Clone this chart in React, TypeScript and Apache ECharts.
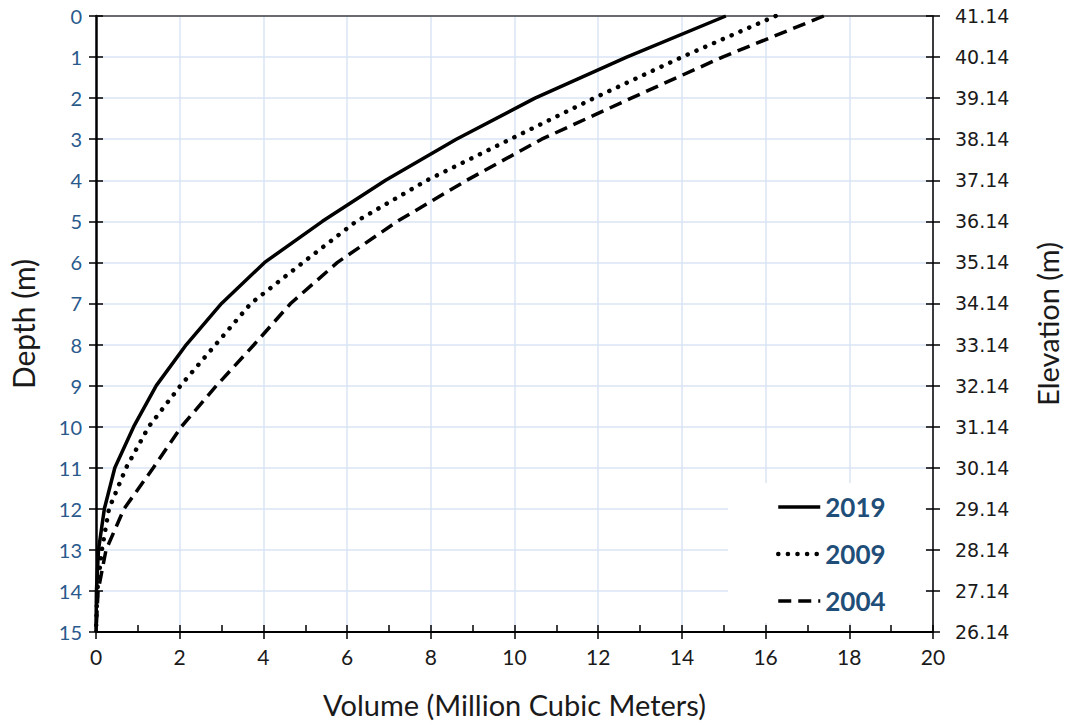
import React, { useEffect, useRef } from "react";
import * as echarts from "echarts";

const depths = [0, 1, 2, 3, 4, 5, 6, 7, 8, 9, 10, 11, 12, 13, 14, 15];
const vol2019 = [15.05, 12.68, 10.49, 8.61, 6.92, 5.41, 4.03, 3.0, 2.16, 1.44, 0.9, 0.45, 0.2, 0.06, 0.01, 0];
const vol2009 = [16.24, 14.0, 11.9, 9.9, 7.91, 6.22, 4.95, 3.7, 2.86, 2.02, 1.26, 0.72, 0.31, 0.14, 0.03, 0];
const vol2004 = [17.39, 14.97, 12.79, 10.65, 8.86, 7.2, 5.77, 4.65, 3.78, 2.88, 2.04, 1.37, 0.67, 0.24, 0.05, 0];
const topElevation = 41.14;
const seriesNames = ["2019", "2009", "2004"];

const pairs = (v: number[]) => v.map((x, i) => [x, depths[i]]);

export default function App() {
  const ref = useRef<HTMLDivElement>(null);
  useEffect(() => {
    if (!ref.current) return;
    const chart = echarts.init(ref.current, null, { renderer: "svg" });
    const gridColor = "#d9e4f3";
    const labelBlue = "#2a5a8c";
    const tickStyle = { color: "#000", width: 1.5 };
    const baseX = { type: "value", min: 0, max: 20, interval: 2 };
    const baseY = { type: "value", min: 0, max: 15, interval: 1, inverse: true };
    const solidStyle = { color: "#000", width: 3.5, type: "solid" };
    const dotStyle = { color: "#000", width: 4.5, type: [0.1, 9.5], cap: "round" };
    const dashStyle = { color: "#000", width: 3.5, type: [13, 7] };
    const styles = [solidStyle, dotStyle, dashStyle];
    chart.setOption({
      animation: false,
      backgroundColor: "#ffffff",
      grid: { left: 95, right: 135, top: 16, bottom: 92 },
      legend: {
        data: seriesNames.map((n, i) => ({ name: n, lineStyle: styles[i] })),
        orient: "vertical",
        left: 728,
        top: 483,
        padding: [11, 40, 9, 48],
        itemWidth: 42,
        itemHeight: 14,
        itemGap: 21,
        backgroundColor: "#ffffff",
        itemStyle: { opacity: 0 },
        textStyle: { fontSize: 26, fontWeight: "bold", color: "#1f4e79", fontFamily: "Lato" },
      },
      xAxis: [
        {
          ...baseX,
          position: "bottom",
          name: "Volume (Million Cubic Meters)",
          nameLocation: "middle",
          nameGap: 58,
          nameTextStyle: { fontSize: 29, color: "#1a1a1a", fontFamily: "Lato" },
          axisLine: { show: true, onZero: false, lineStyle: { color: "#000", width: 2 } },
          axisTick: { show: true, inside: false, length: 7, lineStyle: tickStyle },
          axisLabel: { fontSize: 21, color: "#1a1a1a", margin: 14, fontFamily: "Lato" },
          splitLine: { show: true, lineStyle: { color: gridColor, width: 1.5 } },
        },
        {
          ...baseX,
          position: "bottom",
          axisLine: { show: false, onZero: false },
          axisTick: { show: true, inside: true, length: 7, lineStyle: tickStyle },
          minorTick: { show: true, splitNumber: 2, length: 7, lineStyle: tickStyle },
          axisLabel: { show: false },
          splitLine: { show: false },
        },
        {
          ...baseX,
          position: "top",
          axisLine: { show: true, onZero: false, lineStyle: { color: "#404040", width: 1.5 } },
          axisTick: { show: false },
          axisLabel: { show: false },
          splitLine: { show: false },
        },
      ],
      yAxis: [
        {
          ...baseY,
          position: "left",
          name: "Depth (m)",
          nameLocation: "middle",
          nameGap: 58,
          nameRotate: 90,
          nameTextStyle: { fontSize: 30, color: "#1a1a1a", fontFamily: "Lato" },
          axisLine: { show: true, onZero: false, lineStyle: { color: "#000", width: 2.5 } },
          axisTick: { show: true, inside: false, length: 7, lineStyle: tickStyle },
          axisLabel: { fontSize: 20, color: labelBlue, margin: 14, fontFamily: "Lato" },
          splitLine: { show: true, lineStyle: { color: gridColor, width: 1.5 } },
        },
        {
          ...baseY,
          position: "left",
          axisLine: { show: false, onZero: false },
          axisTick: { show: true, inside: true, length: 7, lineStyle: tickStyle },
          axisLabel: { show: false },
          splitLine: { show: false },
        },
        {
          ...baseY,
          position: "right",
          name: "Elevation (m)",
          nameLocation: "middle",
          nameGap: 100,
          nameRotate: 90,
          nameTextStyle: { fontSize: 29, color: "#1a1a1a", fontFamily: "Lato" },
          axisLine: { show: true, onZero: false, lineStyle: { color: "#000", width: 1.5 } },
          axisTick: { show: true, inside: false, length: 7, lineStyle: tickStyle },
          axisLabel: {
            fontSize: 19,
            color: "#1a1a1a",
            margin: 22,
            fontFamily: "DejaVu Sans",
            formatter: (v: number) => (topElevation - v).toFixed(2),
          },
          splitLine: { show: false },
        },
        {
          ...baseY,
          position: "right",
          axisLine: { show: false, onZero: false },
          axisTick: { show: true, inside: true, length: 7, lineStyle: tickStyle },
          axisLabel: { show: false },
          splitLine: { show: false },
        },
      ],
      series: [
        {
          name: "2019",
          type: "line",
          xAxisIndex: 0,
          yAxisIndex: 0,
          data: pairs(vol2019),
          symbol: "none",
          lineStyle: solidStyle,
          itemStyle: { color: "#000" },
        },
        {
          name: "2009",
          type: "line",
          xAxisIndex: 0,
          yAxisIndex: 0,
          data: pairs(vol2009),
          symbol: "none",
          lineStyle: dotStyle,
          itemStyle: { color: "#000" },
        },
        {
          name: "2004",
          type: "line",
          xAxisIndex: 0,
          yAxisIndex: 0,
          data: pairs(vol2004),
          symbol: "none",
          lineStyle: dashStyle,
          itemStyle: { color: "#000" },
        },
      ],
    });
    return () => chart.dispose();
  }, []);
  return (
    <div
      ref={ref}
      style={{ position: "absolute", left: 0, top: 0, width: 1070, height: 724 }}
    />
  );
}
